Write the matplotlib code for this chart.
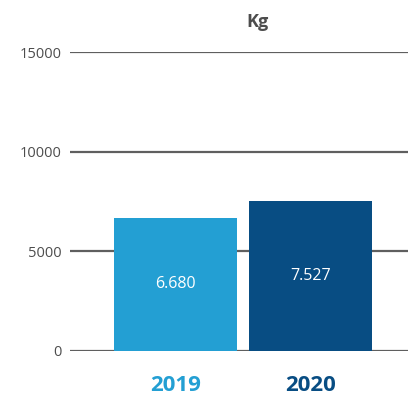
import matplotlib.pyplot as plt

plt.rcParams['font.family'] = ['Open Sans', 'DejaVu Sans']

years = ['2019', '2020']
values = [6680, 7527]
value_labels = ['6.680', '7.527']
colors = ['#239fd3', '#084d83']
yticks = [0, 5000, 10000, 15000]

fig = plt.figure(figsize=(4.08, 3.96), dpi=100)
ax = fig.add_axes([70 / 408, 45 / 396, 338 / 408, 299 / 396])

ax.set_ylim(0, 15000)
ax.set_xlim(-0.781, 1.722)
ax.set_yticks(yticks)
ax.yaxis.grid(True, color='#5f5f5f', linewidth=1.6, zorder=0)
ax.set_axisbelow(True)

bars = ax.bar(range(len(years)), values, width=0.911, color=colors, zorder=2)
ax.bar_label(bars, labels=value_labels, label_type='center', color='white', fontsize=11.5)

ax.set_xticks(range(len(years)))
ax.set_xticklabels(years, fontsize=16, fontweight='bold')
for lbl, c in zip(ax.get_xticklabels(), colors):
    lbl.set_color(c)
ax.tick_params(axis='x', length=0, pad=17)
ax.tick_params(axis='y', length=0, pad=6, labelsize=10.5, labelcolor='#4d4d4d')

for s in ax.spines.values():
    s.set_visible(False)

fig.text(257 / 408, 1 - 22 / 396, 'Kg', ha='center', va='center', fontsize=13,
         fontweight='bold', color='#4d4d4d')

fig.savefig('out.png')
